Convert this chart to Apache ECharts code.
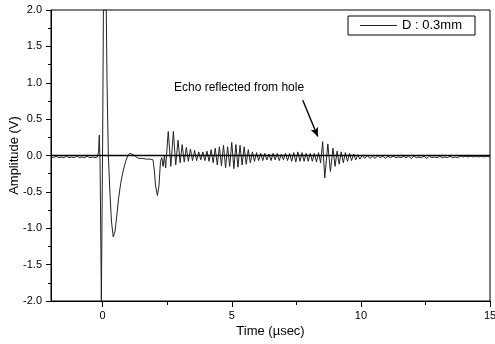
<!DOCTYPE html>
<html>
<head>
<meta charset="utf-8">
<script src="https://cdn.jsdelivr.net/npm/echarts@6/dist/echarts.min.js"></script>
<style>html,body{margin:0;padding:0;background:#fff;}#c{width:495px;height:344px;}</style>
</head>
<body>
<div id="c"></div>
<script>
// Time (µsec), Amplitude (V)
const preTrigger = [[-2.0,-0.02],[-1.9,-0.03],[-1.8,-0.01],[-1.7,-0.03],[-1.6,-0.02],[-1.5,-0.03],[-1.4,-0.01],[-1.3,-0.03],[-1.2,-0.02],[-1.1,-0.03],[-1.0,-0.01],[-0.9,-0.03],[-0.8,-0.02],[-0.7,-0.03],[-0.6,-0.01],[-0.5,-0.03],[-0.4,-0.02],[-0.3,-0.03],[-0.2,-0.02]];
const mainBang = [[-0.16,0.05],[-0.13,0.28],[-0.1,-0.1],[-0.07,-1.2],[-0.05,-2.0],[-0.02,-2.0],[0.0,0.2],[0.03,2.0],[0.14,2.0],[0.17,1.0],[0.22,0.0],[0.28,-0.5],[0.34,-0.9],[0.41,-1.12],[0.48,-1.04],[0.55,-0.82],[0.62,-0.58],[0.7,-0.38],[0.8,-0.2],[0.9,-0.07],[0.98,0.0],[1.05,0.03],[1.12,0.04],[1.2,0.01],[1.3,-0.02],[1.4,-0.04],[1.55,-0.04],[1.7,-0.05],[1.85,-0.05],[1.95,-0.06]];
const firstEcho = [[2.0,-0.2],[2.05,-0.42],[2.12,-0.55],[2.18,-0.42],[2.24,-0.08],[2.29,-0.03],[2.34,-0.15],[2.39,-0.01],[2.44,-0.17],[2.49,0.08],[2.54,0.33],[2.64,-0.15],[2.74,0.33],[2.83,-0.13],[2.92,0.21],[3.0,-0.1],[3.08,0.15],[3.16,-0.09],[3.24,0.11],[3.32,-0.08],[3.40,0.09],[3.48,-0.07],[3.56,0.07],[3.64,-0.07],[3.72,0.05],[3.80,-0.06],[3.88,0.05],[3.96,-0.07],[4.04,0.06],[4.12,-0.08],[4.20,0.08],[4.28,-0.10],[4.36,0.10],[4.44,-0.13],[4.52,0.12],[4.60,-0.14],[4.68,0.14],[4.76,-0.17],[4.84,0.12],[4.92,-0.15],[5.00,0.18],[5.08,-0.18],[5.16,0.15],[5.24,-0.16],[5.32,0.14],[5.40,-0.13],[5.48,0.12],[5.56,-0.12],[5.64,0.08],[5.72,-0.10],[5.80,0.05],[5.88,-0.08],[5.96,0.04],[6.04,-0.07]];
const midTail = [[6.12,0.03],[6.20,-0.07],[6.28,0.03],[6.36,-0.06],[6.44,0.02],[6.52,-0.07],[6.60,0.03],[6.68,-0.06],[6.76,0.03],[6.84,-0.07],[6.92,0.02],[7.00,-0.06],[7.08,0.03],[7.16,-0.07],[7.24,0.03],[7.32,-0.08],[7.40,0.04],[7.48,-0.09],[7.56,0.05],[7.64,-0.08],[7.72,0.04],[7.80,-0.08],[7.88,0.03],[7.96,-0.08],[8.04,0.03],[8.12,-0.08],[8.20,0.03],[8.28,-0.09],[8.36,0.04],[8.44,-0.10]];
const holeEcho = [[8.52,0.19],[8.60,-0.31],[8.72,0.16],[8.82,-0.22],[8.92,0.10],[9.00,-0.15],[9.08,0.06],[9.16,-0.12],[9.24,0.05],[9.32,-0.10],[9.40,0.04],[9.48,-0.08],[9.56,0.03],[9.64,-0.07],[9.72,0.02],[9.80,-0.06],[9.88,0.01],[9.96,-0.05]];
const lateTail = [[10.05,0.0],[10.15,-0.04],[10.25,0.0],[10.35,-0.04],[10.45,-0.01],[10.55,-0.04],[10.65,0.0],[10.75,-0.03],[10.85,-0.01],[10.95,-0.04],[11.05,-0.01],[11.15,-0.03],[11.25,-0.01],[11.35,-0.03],[11.45,-0.02],[11.55,-0.03],[11.65,-0.01],[11.75,-0.03],[11.85,-0.01],[11.95,-0.04],[12.05,-0.01],[12.15,-0.03],[12.25,-0.02],[12.35,-0.03],[12.45,-0.01],[12.55,-0.04],[12.65,-0.01],[12.75,-0.03],[12.85,-0.02],[12.95,-0.03],[13.05,-0.01],[13.15,-0.03],[13.25,-0.02],[13.35,-0.03],[13.45,-0.01],[13.55,-0.03],[13.65,-0.02],[13.75,-0.03],[13.85,-0.01],[13.95,-0.02],[14.05,-0.01],[14.15,-0.02],[14.25,-0.01],[14.35,-0.02],[14.45,-0.01],[14.55,-0.02],[14.65,-0.01],[14.75,-0.02],[14.85,-0.01],[15.0,-0.02]];

const xMajorTicks = [0, 5, 10, 15];
const xMinorTicks = [2.5, 7.5, 12.5];
const seriesName = 'D : 0.3mm';
const annotationText = 'Echo reflected from hole';
const arrowFrom = [7.75, 0.76];
const arrowTo = [8.33, 0.26];

const signal = [].concat(preTrigger, mainBang, firstEcho, midTail, holeEcho, lateTail);
const FONT = '"Liberation Sans", Arial, Helvetica, sans-serif';

const chart = echarts.init(document.getElementById('c'), null, {renderer: 'canvas'});
chart.setOption({
  animation: false,
  backgroundColor: '#fff',
  textStyle: {fontFamily: FONT},
  grid: {left: 51, right: 5, top: 10, bottom: 43, outerBoundsMode: 'none', containLabel: false,
         show: true, borderColor: '#000', borderWidth: 1, backgroundColor: 'transparent'},
  legend: {
    right: 20, top: 16,
    data: [seriesName],
    icon: 'rect', itemWidth: 37, itemHeight: 1, itemGap: 6,
    borderColor: '#000', borderWidth: 1, padding: [3, 13, 3, 12],
    textStyle: {fontFamily: FONT, fontSize: 13, color: '#000'}
  },
  xAxis: [{
    type: 'value', min: -2, max: 15,
    name: 'Time (µsec)', nameLocation: 'middle', nameGap: 24, nameMoveOverlap: false,
    nameTextStyle: {fontFamily: FONT, fontSize: 13, color: '#000'},
    axisLine: {show: true, onZero: false, lineStyle: {color: '#000', width: 1}},
    axisTick: {show: true, inside: false, length: 6, customValues: xMajorTicks, lineStyle: {color: '#000'}},
    axisLabel: {show: true, customValues: xMajorTicks, margin: 9, fontSize: 11, color: '#000', fontFamily: FONT},
    splitLine: {show: false}
  }, {
    type: 'value', min: -2, max: 15, position: 'bottom',
    axisLine: {show: false, onZero: false},
    axisTick: {show: true, length: 4, customValues: xMinorTicks, lineStyle: {color: '#000'}},
    axisLabel: {show: true, customValues: xMinorTicks, formatter: () => ''},
    splitLine: {show: false}
  }],
  yAxis: {
    type: 'value', min: -2, max: 2, interval: 0.5,
    name: 'Amplitude (V)', nameLocation: 'middle', nameGap: 30, nameMoveOverlap: false,
    nameTextStyle: {fontFamily: FONT, fontSize: 13, color: '#000'},
    axisLine: {show: true, onZero: false, lineStyle: {color: '#000', width: 1}},
    axisTick: {show: true, length: 5, lineStyle: {color: '#000'}},
    minorTick: {show: true, splitNumber: 2, length: 3, lineStyle: {color: '#000'}},
    axisLabel: {margin: 9, fontSize: 11, color: '#000', fontFamily: FONT, formatter: v => v.toFixed(1)},
    splitLine: {show: false}
  },
  series: [{
    name: seriesName,
    type: 'line',
    xAxisIndex: 0,
    data: signal,
    symbol: 'none',
    clip: true,
    lineStyle: {color: '#222', width: 1},
    itemStyle: {color: '#222'},
    markLine: {
      silent: true,
      animation: false,
      label: {show: false},
      data: [
        [{coord: [-2, 0], symbol: 'none'}, {coord: [15, 0], symbol: 'none'}],
        [{coord: arrowFrom, symbol: 'none'}, {coord: arrowTo, symbol: 'arrow', symbolSize: [6, 9]}]
      ],
      lineStyle: {color: '#000', width: 1.4, type: 'solid'}
    }
  }],
  graphic: [{
    type: 'text', left: 174, top: 82,
    style: {text: annotationText, font: '12px ' + FONT, fill: '#000'}
  }]
});
</script>
</body>
</html>
